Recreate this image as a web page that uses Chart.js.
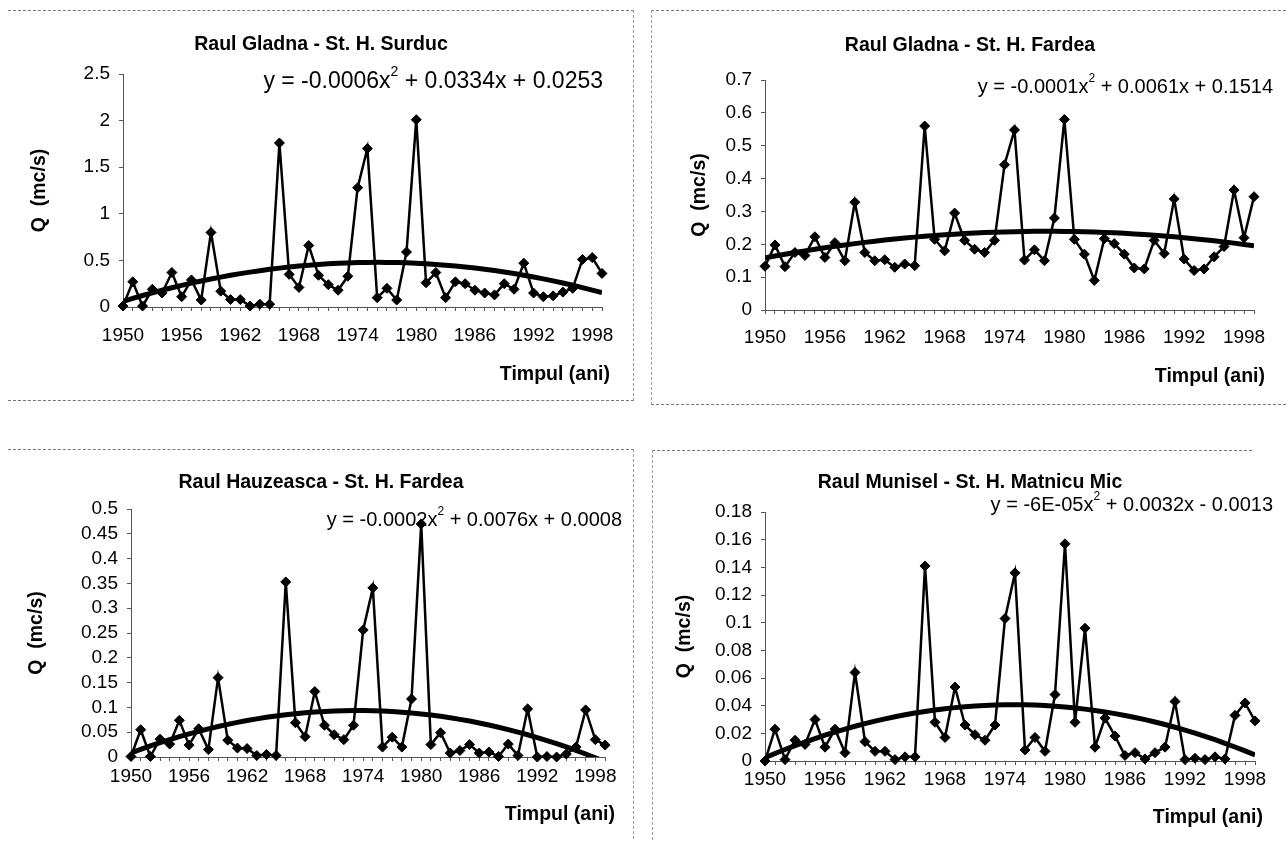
<!DOCTYPE html>
<html>
<head>
<meta charset="utf-8">
<title>Debite medii anuale</title>
<script src="https://cdn.jsdelivr.net/npm/chart.js@4.4.1/dist/chart.umd.min.js"></script>
<style>
  html, body { margin: 0; padding: 0; background: #fff; }
  body { width: 1288px; height: 841px; position: relative; overflow: hidden; }
  canvas { position: absolute; }
  .rama { position: absolute; box-sizing: border-box; }
</style>
</head>
<body>
<!-- ramele celor patru grafice -->
<div class="rama" style="left:8px;top:10px;width:626px;height:391px;border-top:1px dashed #777;border-right:1px dashed #999;border-bottom:1px dashed #777;"></div>
<div class="rama" style="left:651px;top:10px;width:640px;height:395px;border-top:1px dashed #777;border-left:1px dashed #999;border-bottom:1px dashed #777;"></div>
<div class="rama" style="left:8px;top:449px;width:626px;height:400px;border-top:1px dashed #777;border-right:1px dashed #999;"></div>
<div class="rama" style="left:652px;top:450px;width:600px;height:400px;border-top:1px dashed #777;border-left:1px dashed #999;"></div>

<canvas id="g0"></canvas>
<canvas id="g1"></canvas>
<canvas id="g2"></canvas>
<canvas id="g3"></canvas>

<script>
Chart.defaults.font.family = '"Liberation Sans", Arial, Helvetica, sans-serif';
Chart.defaults.color = '#000';

// anii (categoriile axei X)
const ani = [1950, 1951, 1952, 1953, 1954, 1955, 1956, 1957, 1958, 1959,
             1960, 1961, 1962, 1963, 1964, 1965, 1966, 1967, 1968, 1969,
             1970, 1971, 1972, 1973, 1974, 1975, 1976, 1977, 1978, 1979,
             1980, 1981, 1982, 1983, 1984, 1985, 1986, 1987, 1988, 1989,
             1990, 1991, 1992, 1993, 1994, 1995, 1996, 1997, 1998, 1999];

// debite medii anuale Q (mc/s)
const qGladnaSurduc = [0.01, 0.27, 0.01, 0.19, 0.15, 0.37, 0.11, 0.29, 0.075, 0.80,
                       0.17, 0.08, 0.08, 0.01, 0.03, 0.03, 1.76, 0.35, 0.21, 0.66,
                       0.34, 0.24, 0.18, 0.33, 1.28, 1.70, 0.10, 0.20, 0.075, 0.59,
                       2.01, 0.26, 0.37, 0.10, 0.27, 0.25, 0.18, 0.15, 0.13, 0.25,
                       0.19, 0.47, 0.15, 0.11, 0.12, 0.16, 0.20, 0.51, 0.53, 0.36];

const qGladnaFardea = [0.133, 0.198, 0.132, 0.175, 0.166, 0.223, 0.16, 0.205, 0.15, 0.328,
                       0.175, 0.15, 0.153, 0.13, 0.14, 0.135, 0.56, 0.215, 0.18, 0.295,
                       0.212, 0.185, 0.175, 0.212, 0.442, 0.548, 0.152, 0.183, 0.15, 0.28,
                       0.58, 0.215, 0.17, 0.09, 0.217, 0.202, 0.17, 0.128, 0.125, 0.212,
                       0.172, 0.338, 0.155, 0.12, 0.125, 0.162, 0.193, 0.365, 0.22, 0.345];

const qHauzeasca = [0.001, 0.055, 0.001, 0.036, 0.026, 0.074, 0.024, 0.057, 0.015, 0.16,
                    0.034, 0.018, 0.017, 0.003, 0.005, 0.003, 0.353, 0.069, 0.041, 0.132,
                    0.064, 0.045, 0.035, 0.064, 0.256, 0.341, 0.02, 0.04, 0.02, 0.117,
                    0.47, 0.025, 0.049, 0.008, 0.013, 0.025, 0.008, 0.01, 0.001, 0.026,
                    0.003, 0.097, 0, 0.001, 0, 0.006, 0.02, 0.095, 0.035, 0.024];

const qMunisel = [0, 0.023, 0.001, 0.015, 0.012, 0.030, 0.010, 0.023, 0.006, 0.064,
                  0.014, 0.007, 0.007, 0.001, 0.003, 0.003, 0.141, 0.028, 0.017, 0.0535,
                  0.026, 0.019, 0.015, 0.026, 0.103, 0.136, 0.008, 0.017, 0.007, 0.048,
                  0.157, 0.028, 0.096, 0.010, 0.031, 0.018, 0.004, 0.006, 0.0015, 0.006,
                  0.010, 0.043, 0.001, 0.002, 0.001, 0.003, 0.0015, 0.033, 0.042, 0.029];

const serii = [qGladnaSurduc, qGladnaFardea, qHauzeasca, qMunisel];

const titluri = ['Raul Gladna - St. H. Surduc',
                 'Raul Gladna - St. H. Fardea',
                 'Raul Hauzeasca - St. H. Fardea',
                 'Raul Munisel - St. H. Matnicu Mic'];

// ecuatia trendului: [inainte de exponent, exponent, dupa exponent]
const ecuatii = [['y = -0.0006x', '2', ' + 0.0334x + 0.0253'],
                 ['y = -0.0001x', '2', ' + 0.0061x + 0.1514'],
                 ['y = -0.0002x', '2', ' + 0.0076x + 0.0008'],
                 ['y = -6E-05x', '2', ' + 0.0032x - 0.0013']];

// axa Y: maxim si pas
const yMax = [2.5, 0.7, 0.5, 0.18];
const yPas = [0.5, 0.1, 0.05, 0.02];

const titluY = 'Q  (mc/s)';
const titluX = 'Timpul (ani)';

// asezarea in pagina (coordonate de pagina)
const asezare = [
  { c: [8, 12, 625, 388],   zona: [123, 74, 602, 307],   tit: [321, 45],  qX: 40,  xT: [610, 375],  ec: [603, 82, 23],  tp: 13 },
  { c: [652, 12, 636, 392], zona: [765, 80, 1254, 310],  tit: [970, 46],  qX: 700, xT: [1265, 377], ec: [1273, 87, 20], tp: 12 },
  { c: [8, 450, 625, 391],  zona: [131, 509, 605, 757],  tit: [321, 483], qX: 37,  xT: [615, 815],  ec: [622, 520, 20], tp: 4 },
  { c: [652, 451, 636, 390], zona: [765, 512, 1255, 761], tit: [970, 483], qX: 685, xT: [1263, 818], ec: [1273, 505, 20], tp: 3 }
];

const FONT = '"Liberation Sans", Arial, Helvetica, sans-serif';
const MARIME = 19;
const MARIME_TITLU = 19.5;
const LH_TITLU = MARIME_TITLU * 1.2;

// trend polinomial de gradul 2 (cele mai mici patrate), x = 1..n
function trendPatratic(ys) {
  const S = [0, 0, 0, 0, 0], T = [0, 0, 0];
  ys.forEach((y, i) => {
    const x = i + 1;
    let p = 1;
    for (let k = 0; k < 5; k++) {
      S[k] += p;
      if (k < 3) T[k] += p * y;
      p *= x;
    }
  });
  const M = [[S[4], S[3], S[2], T[2]],
             [S[3], S[2], S[1], T[1]],
             [S[2], S[1], S[0], T[0]]];
  for (let i = 0; i < 3; i++) {
    for (let j = i + 1; j < 3; j++) {
      const f = M[j][i] / M[i][i];
      for (let k = i; k < 4; k++) M[j][k] -= f * M[i][k];
    }
  }
  const r = [0, 0, 0];
  for (let i = 2; i >= 0; i--) {
    let s = M[i][3];
    for (let k = i + 1; k < 3; k++) s -= M[i][k] * r[k];
    r[i] = s / M[i][i];
  }
  const [a, b, c] = r;
  return ys.map((_, i) => a * (i + 1) * (i + 1) + b * (i + 1) + c);
}

// titlul, ecuatia si titlul axei X, desenate peste grafic
const textePanou = {
  id: 'textePanou',
  afterDraw(chart, args, o) {
    const ctx = chart.ctx;
    ctx.save();
    ctx.fillStyle = '#000';
    ctx.textBaseline = 'middle';

    ctx.font = 'bold ' + MARIME_TITLU + 'px ' + FONT;
    ctx.textAlign = 'center';
    ctx.fillText(o.titlu, o.tit[0], o.tit[1]);

    ctx.textAlign = 'right';
    ctx.fillText(titluX, o.xT[0], o.xT[1]);

    const [p0, p1, p2] = o.ecuatie;
    const m = o.ec[2];
    const fMare = m + 'px ' + FONT;
    const fMic = Math.round(m * 0.6) + 'px ' + FONT;
    ctx.font = fMare;
    const w0 = ctx.measureText(p0).width, w2 = ctx.measureText(p2).width;
    ctx.font = fMic;
    const w1 = ctx.measureText(p1).width;
    let x = o.ec[0] - (w0 + w1 + w2);
    ctx.textAlign = 'left';
    ctx.font = fMare; ctx.fillText(p0, x, o.ec[1]); x += w0;
    ctx.font = fMic;  ctx.fillText(p1, x, o.ec[1] - m * 0.42); x += w1;
    ctx.font = fMare; ctx.fillText(p2, x, o.ec[1]);
    ctx.restore();
  }
};

serii.forEach((serie, n) => {
  const a = asezare[n];
  const [cx, cy, cw, ch] = a.c;
  const [zl, zt, zr, zb] = a.zona;
  const cv = document.getElementById('g' + n);
  cv.width = cw; cv.height = ch;
  cv.style.left = cx + 'px'; cv.style.top = cy + 'px';

  new Chart(cv, {
    type: 'line',
    data: {
      labels: ani,
      datasets: [
        {
          data: serie,
          borderColor: '#000',
          borderWidth: 2.5,
          pointStyle: 'rectRot',
          pointRadius: 5,
          pointBackgroundColor: '#000',
          pointBorderColor: '#000',
          pointBorderWidth: 1,
          tension: 0,
          clip: 8,
          order: 2
        },
        {
          data: trendPatratic(serie),
          borderColor: '#000',
          borderWidth: 5,
          pointRadius: 0,
          tension: 0,
          clip: 0,
          order: 1
        }
      ]
    },
    options: {
      responsive: false,
      animation: false,
      events: [],
      layout: { padding: { left: 0, top: zt - cy, right: (cx + cw) - zr, bottom: 0 } },
      plugins: {
        legend: { display: false },
        tooltip: { enabled: false },
        title: { display: false },
        textePanou: {
          titlu: titluri[n],
          tit: [a.tit[0] - cx, a.tit[1] - cy],
          ecuatie: ecuatii[n],
          ec: [a.ec[0] - cx, a.ec[1] - cy, a.ec[2]],
          xT: [a.xT[0] - cx, a.xT[1] - cy]
        }
      },
      scales: {
        x: {
          type: 'category',
          offset: false,
          grid: { display: true, drawOnChartArea: false, tickLength: 4, color: '#555' },
          border: { display: true, color: '#555', dash: [3, 2] },
          ticks: {
            autoSkip: false,
            maxRotation: 0,
            padding: a.tp,
            font: { size: MARIME },
            callback(v, i) { return i % 6 === 0 ? this.getLabelForValue(v) : ''; }
          },
          afterFit(s) { s.height = (cy + ch) - zb; }
        },
        y: {
          min: 0,
          max: yMax[n],
          grid: { display: true, drawOnChartArea: false, tickLength: 4, color: '#555' },
          border: { display: true, color: '#555', dash: [3, 2] },
          ticks: {
            stepSize: yPas[n],
            autoSkip: false,
            padding: 9,
            font: { size: MARIME },
            callback: v => String(+v.toFixed(3))
          },
          title: {
            display: true,
            text: titluY,
            color: '#000',
            font: { size: MARIME_TITLU, weight: 'bold' },
            padding: { top: a.qX - cx - LH_TITLU / 2, bottom: 0 }
          },
          afterFit(s) { s.width = zl - cx; }
        }
      }
    },
    plugins: [textePanou]
  });
});
</script>
</body>
</html>
